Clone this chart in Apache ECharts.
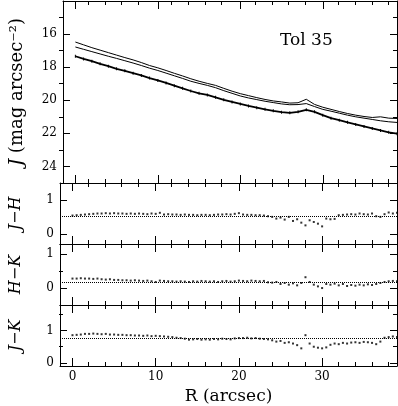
<!DOCTYPE html>
<html>
<head>
<meta charset="utf-8">
<script src="https://cdn.jsdelivr.net/npm/echarts@6/dist/echarts.min.js"></script>
<style>
  html, body { margin: 0; padding: 0; background: #fff; }
  #chart { width: 398px; height: 406px; }
</style>
</head>
<body>
<div id="chart"></div>
<script>
// surface brightness profile, J band (mag arcsec^-2)
const rProfile = [0,1,2,3,4,5,6,7,8,9,10,11,12,13,14,15,16,17,18,19,20,21,22,23,24,25,26,27,28,29,30,31,32,33,34,35,36,37,38,39];
const jUpper = [16.48,16.65,16.82,16.97,17.12,17.27,17.42,17.56,17.72,17.90,18.04,18.20,18.37,18.53,18.70,18.85,18.98,19.10,19.28,19.45,19.60,19.72,19.84,19.95,20.04,20.10,20.17,20.15,19.94,20.25,20.42,20.55,20.68,20.80,20.90,20.98,21.04,21.00,21.08,21.10];
const jMiddle = [16.78,16.92,17.06,17.20,17.34,17.47,17.61,17.75,17.90,18.06,18.20,18.36,18.52,18.68,18.85,18.98,19.10,19.24,19.42,19.58,19.74,19.86,19.96,20.06,20.14,20.22,20.27,20.26,20.20,20.38,20.55,20.66,20.78,20.90,21.00,21.08,21.16,21.24,21.30,21.34];
const jObserved = [17.34,17.50,17.64,17.80,17.94,18.10,18.22,18.36,18.50,18.66,18.80,18.95,19.12,19.28,19.44,19.58,19.68,19.82,19.97,20.10,20.22,20.34,20.45,20.55,20.64,20.72,20.76,20.70,20.58,20.70,20.90,21.08,21.20,21.33,21.46,21.58,21.70,21.82,21.94,22.02];

// colour profiles
const rColour = [0,0.5,1,1.5,2,2.5,3,3.5,4,4.5,5,5.5,6,6.5,7,7.5,8,8.5,9,9.5,10,10.5,11,11.5,12,12.5,13,13.5,14,14.5,15,15.5,16,16.5,17,17.5,18,18.5,19,19.5,20,20.5,21,21.5,22,22.5,23,23.5,24,24.5,25,25.5,26,26.5,27,27.5,28,28.5,29,29.5,30,30.5,31,31.5,32,32.5,33,33.5,34,34.5,35,35.5,36,36.5,37,37.5,38,38.5,39];
const jh = [0.54,0.55,0.56,0.57,0.58,0.59,0.60,0.60,0.61,0.60,
            0.61,0.60,0.60,0.59,0.60,0.59,0.60,0.59,0.58,0.60,
            0.59,0.62,0.57,0.58,0.57,0.57,0.56,0.57,0.56,0.56,
            0.55,0.56,0.56,0.55,0.56,0.57,0.57,0.58,0.57,0.59,
            0.61,0.57,0.56,0.56,0.55,0.55,0.54,0.52,0.50,0.45,
            0.48,0.42,0.50,0.38,0.43,0.33,0.25,0.40,0.35,0.30,
            0.22,0.45,0.43,0.44,0.55,0.56,0.57,0.58,0.57,0.60,
            0.58,0.57,0.60,0.52,0.50,0.58,0.63,0.60,0.62];
const hk = [0.28,0.28,0.29,0.28,0.28,0.27,0.28,0.26,0.25,0.26,
            0.24,0.24,0.23,0.23,0.22,0.23,0.22,0.21,0.22,0.20,
            0.18,0.22,0.21,0.20,0.20,0.19,0.20,0.19,0.18,0.20,
            0.19,0.21,0.20,0.19,0.20,0.18,0.20,0.21,0.19,0.20,
            0.22,0.21,0.20,0.22,0.21,0.20,0.21,0.17,0.16,0.18,
            0.12,0.15,0.10,0.14,0.08,0.15,0.32,0.18,0.10,0.05,
            0.00,0.12,0.10,0.13,0.08,0.12,0.06,0.09,0.07,0.10,
            0.08,0.11,0.09,0.12,0.15,0.18,0.20,0.21,0.20];
const jk = [0.86,0.87,0.88,0.90,0.90,0.91,0.90,0.89,0.90,0.88,
            0.88,0.87,0.87,0.86,0.86,0.85,0.85,0.84,0.85,0.83,
            0.84,0.83,0.82,0.81,0.80,0.78,0.77,0.75,0.72,0.73,
            0.74,0.72,0.73,0.72,0.74,0.73,0.75,0.74,0.73,0.76,
            0.77,0.77,0.78,0.76,0.77,0.75,0.74,0.73,0.70,0.66,
            0.68,0.62,0.64,0.60,0.55,0.45,0.86,0.60,0.50,0.47,
            0.45,0.48,0.56,0.60,0.58,0.62,0.60,0.63,0.64,0.62,
            0.65,0.64,0.62,0.58,0.66,0.78,0.80,0.82,0.80];
// reference colour levels (dotted lines)
const jhRef = 0.53, hkRef = 0.17, jkRef = 0.75;

// ticks
const xMajor = [0, 10, 20, 30];
const xMinor = [2,4,6,8,12,14,16,18,22,24,26,28,32,34,36,38];
const yMajorJ = [16, 18, 20, 22, 24];
const yMinorJ = [15, 17, 19, 21, 23];
const yMajorCol = [0, 1];
const yMinorHK = [0.5];
const yMinorJK = [0.5, 1.5];

const FONT = 'DejaVu Serif';
const X_MIN = -1.5, X_MAX = 39;

const panels = [
  { top: 1,   height: 182, min: 14,   max: 25,  inverse: true,  major: yMajorJ,   minor: yMinorJ,  name: '{i|J} (mag arcsec⁻²)', size: 18, gap: 37 },
  { top: 183, height: 61,  min: -0.3, max: 1.5, inverse: false, major: yMajorCol, minor: [],       name: '{i|J−H}', size: 16, gap: 36 },
  { top: 244, height: 61,  min: -0.5, max: 1.3, inverse: false, major: yMajorCol, minor: yMinorHK, name: '{i|H−K}', size: 16, gap: 36 },
  { top: 305, height: 61,  min: -0.1, max: 1.8, inverse: false, major: yMajorCol, minor: yMinorJK, name: '{i|J−K}', size: 16, gap: 36 }
];

const grid = [], xAxis = [], yAxis = [];

// layer 0: major ticks + labels, layer 1: minor ticks (same rectangles)
[0, 1].forEach(function (layer) {
  panels.forEach(function (p, k) {
    const g = grid.length;
    const major = layer === 0;
    grid.push({ left: 59, top: p.top, width: 338, height: p.height });
    const xt = major ? xMajor : xMinor;
    const xl = major ? 8 : 4;
    ['bottom', 'top'].forEach(function (pos) {
      const showLab = major && pos === 'bottom' && k === 3;
      xAxis.push({
        type: 'value', gridIndex: g, position: pos, min: X_MIN, max: X_MAX,
        axisLine: { show: major, onZero: false, lineStyle: { color: '#000', width: 1 } },
        axisTick: { show: true, inside: true, length: xl, customValues: xt, lineStyle: { color: '#000', width: 1 } },
        axisLabel: { show: showLab, customValues: xMajor, margin: 5, color: '#000', fontFamily: FONT, fontSize: 12 },
        splitLine: { show: false },
        name: showLab ? 'R (arcsec)' : '',
        nameLocation: 'middle', nameGap: 22,
        nameTextStyle: { fontFamily: FONT, fontSize: 17, color: '#000' }
      });
    });
    const yt = major ? p.major : p.minor;
    const yl = major ? 7 : 4;
    ['left', 'right'].forEach(function (pos) {
      const showLab = major && pos === 'left';
      yAxis.push({
        type: 'value', gridIndex: g, position: pos, min: p.min, max: p.max, inverse: p.inverse,
        axisLine: { show: major, onZero: false, lineStyle: { color: '#000', width: 1 } },
        axisTick: { show: yt.length > 0, inside: true, length: yl, customValues: yt.length ? yt : [p.min], lineStyle: { color: '#000', width: 1 } },
        axisLabel: { show: showLab, customValues: p.major, margin: 6, color: '#000', fontFamily: FONT, fontSize: 12 },
        splitLine: { show: false },
        name: showLab ? p.name : '',
        nameLocation: 'middle', nameRotate: 90, nameGap: p.gap,
        nameTextStyle: {
          fontFamily: FONT, fontSize: p.size, color: '#000',
          rich: { i: { fontFamily: FONT, fontSize: p.size, fontStyle: 'italic', color: '#000' } }
        }
      });
    });
  });
});

function pairs(xs, ys) { return xs.map(function (x, i) { return [x, ys[i]]; }); }

function colourSeries(k, ys, ref) {
  return {
    type: 'scatter', xAxisIndex: 2 * k, yAxisIndex: 2 * k,
    data: pairs(rColour, ys), symbol: 'rect', symbolSize: 2,
    itemStyle: { color: '#000' },
    markLine: {
      silent: true, symbol: ['none', 'none'], label: { show: false },
      lineStyle: { type: 'dotted', color: '#000', width: 1 },
      data: [{ yAxis: ref }]
    }
  };
}

const option = {
  animation: false,
  backgroundColor: '#fff',
  grid: grid, xAxis: xAxis, yAxis: yAxis,
  graphic: [{
    type: 'text', left: 280, top: 32,
    style: { text: 'Tol 35', fontFamily: FONT, fontSize: 17, fill: '#000' }
  }],
  series: [
    { type: 'line', xAxisIndex: 0, yAxisIndex: 0, data: pairs(rProfile, jUpper), showSymbol: false,
      lineStyle: { color: '#000', width: 1 } },
    { type: 'line', xAxisIndex: 0, yAxisIndex: 0, data: pairs(rProfile, jMiddle), showSymbol: false,
      lineStyle: { color: '#000', width: 1 } },
    { type: 'line', xAxisIndex: 0, yAxisIndex: 0, data: pairs(rProfile, jObserved),
      symbol: 'rect', symbolSize: [1, 3], showSymbol: true, itemStyle: { color: '#000' },
      lineStyle: { color: '#000', width: 1.8 } },
    colourSeries(1, jh, jhRef),
    colourSeries(2, hk, hkRef),
    colourSeries(3, jk, jkRef)
  ]
};

const chart = echarts.init(document.getElementById('chart'));
chart.setOption(option);
</script>
</body>
</html>
